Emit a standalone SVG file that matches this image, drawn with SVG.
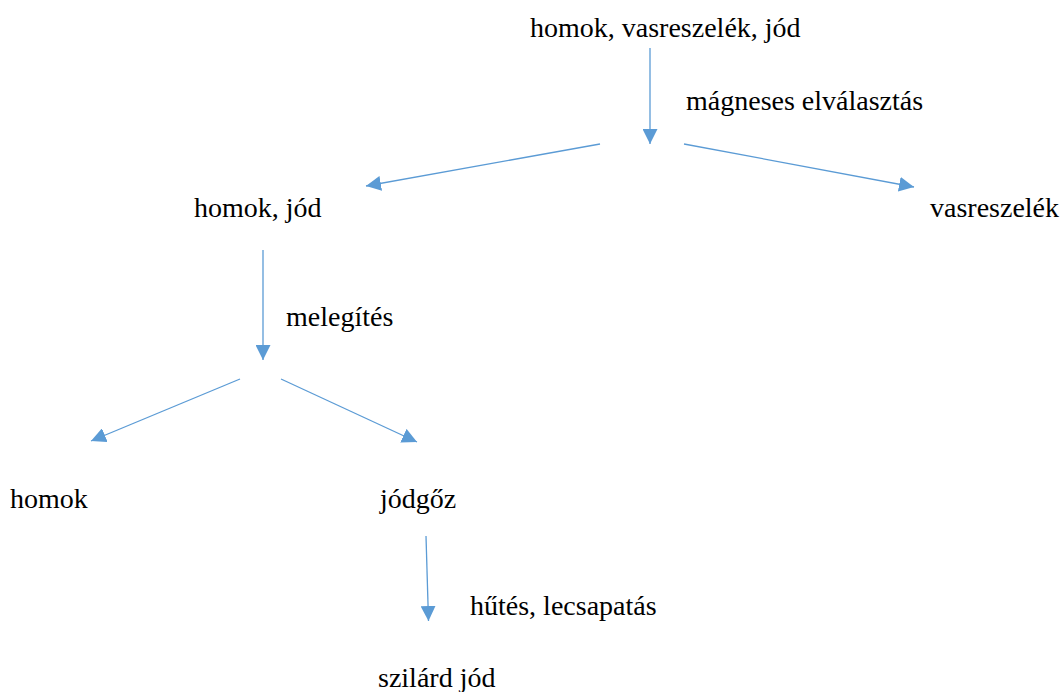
<svg xmlns="http://www.w3.org/2000/svg" width="1063" height="692" viewBox="0 0 1063 692">
<style>
text{font-size:28px;fill:#000}
.c line{stroke:#5B9BD5;stroke-width:1.3;fill:none;marker-end:url(#ah)}
</style>
<defs>
<marker id="ah" markerUnits="userSpaceOnUse" markerWidth="15" markerHeight="15" refX="15" refY="7.5" orient="auto" viewBox="0 0 15 15">
<path d="M0,0 L15,7.5 L0,15 z" fill="#5B9BD5"/>
</marker>
</defs>
<rect width="1063" height="692" fill="#fff"/>
<g class="c" id="connectors">
<line x1="650" y1="48" x2="650" y2="144"/>
<line x1="600" y1="144" x2="366" y2="186"/>
<line x1="684" y1="144" x2="914" y2="187"/>
<line x1="263" y1="250" x2="263" y2="360"/>
<line x1="240" y1="379" x2="91" y2="441"/>
<line x1="281" y1="379" x2="417" y2="442"/>
<line x1="426" y1="536" x2="428.5" y2="621"/>
</g>
<g id="n-top"><text x="530" y="37" font-family="serif" style="font-family:serif">homok, vasreszelék, jód</text></g>
<g id="l-magneses"><text x="686" y="110" font-family="serif" style="font-family:serif">mágneses elválasztás</text></g>
<g id="n-homokjod"><text x="194" y="217" font-family="serif" style="font-family:serif">homok, jód</text></g>
<g id="n-vasreszelek"><text x="930" y="217" font-family="serif" style="font-family:serif">vasreszelék</text></g>
<g id="l-melegites"><text x="286" y="326" font-family="serif" style="font-family:serif">melegítés</text></g>
<g id="n-homok"><text x="10" y="508" font-family="serif" style="font-family:serif">homok</text></g>
<g id="n-jodgoz"><text x="380" y="508" font-family="serif" style="font-family:serif">jódgőz</text></g>
<g id="l-hutes"><text x="470" y="615" font-family="serif" style="font-family:serif">hűtés, lecsapatás</text></g>
<g id="n-szilard"><text x="378" y="687" font-family="serif" style="font-family:serif">szilárd jód</text></g>
</svg>
